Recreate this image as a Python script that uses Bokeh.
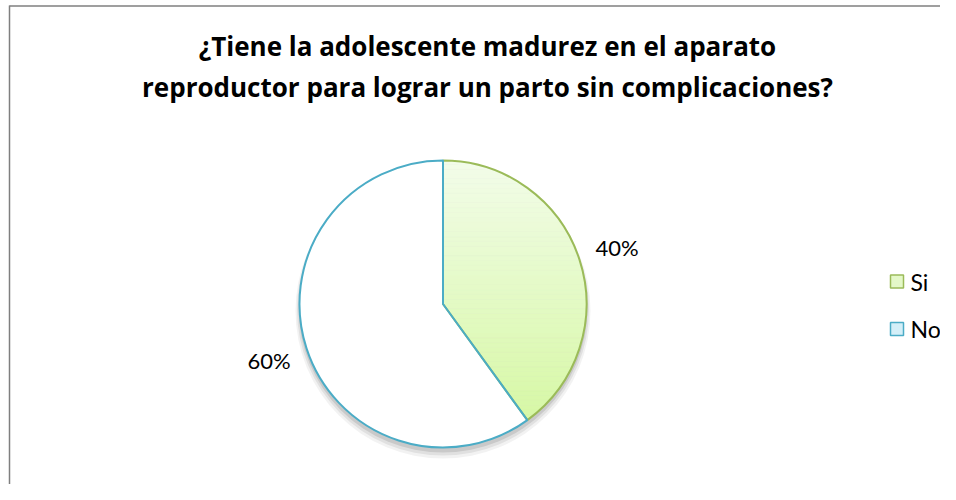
import numpy as np
from bokeh.plotting import figure
from bokeh.models import Range1d
from bokeh.core.properties import value
from bokeh.embed import file_html
from bokeh.resources import INLINE

# ---- data ----
title_lines = ["¿Tiene la adolescente madurez en el aparato",
               "reproductor para lograr un parto sin complicaciones?"]
categories = ["Si", "No"]
percentages = [40, 60]
pct_labels = ["40%", "60%"]

# ---- styles ----
line_colors = ["#9bbb59", "#4bacc6"]
legend_fills = ["#e4f8c8", "#d4eff8"]
si_top, si_bottom = np.array([0xf3, 0xfd, 0xea]), np.array([0xd4, 0xf8, 0x9e])

W, H = 940, 484
p = figure(width=W, height=H, x_range=Range1d(0, W), y_range=Range1d(0, H),
           output_backend="svg", toolbar_location=None, min_border=0)
p.axis.visible = False
p.grid.visible = False
p.outline_line_color = None
p.background_fill_color = "white"
p.border_fill_color = "white"


def Y(sy):
    return H - sy


# frame lines
p.line([9, 9], [Y(5), 0], line_color="#7f7f7f", line_width=1.5)
p.line([9, W], [Y(5.5), Y(5.5)], line_color="#7f7f7f", line_width=1.5)

# title
for i, t in enumerate(title_lines):
    p.text(x=[487], y=[Y(45 + 41 * i)], text=[t], text_align="center", text_baseline="middle",
           text_font=value("Open Sans"), text_font_style="bold", text_font_size="26px",
           text_color="#000000")

cx, cy, R = 442.5, Y(303.5), 143.5

# shadow
for dr, dy, a in [(4, 7, 0.05), (2.5, 5.5, 0.07), (1, 4, 0.1)]:
    p.circle(x=[cx], y=[cy - dy], radius=R + dr, fill_color="black", fill_alpha=a, line_color=None)

fr = np.array(percentages, dtype=float) / sum(percentages)
cum = np.concatenate([[0], np.cumsum(fr)])
end_ang = np.pi / 2 - cum[:-1] * 2 * np.pi
start_ang = np.pi / 2 - cum[1:] * 2 * np.pi

# No slice white fill
p.wedge(x=[cx], y=[cy], radius=R, start_angle=start_ang[1], end_angle=end_ang[1],
        fill_color="white", line_color=None)


def wedge_poly(a0, a1, n=240):
    t = np.linspace(a0, a1, n)
    return [(cx, cy)] + list(zip(cx + R * np.cos(t), cy + R * np.sin(t)))


def clip(poly, yc, keep_above):
    def inside(P):
        return P[1] >= yc if keep_above else P[1] <= yc

    out = []
    n = len(poly)
    for i in range(n):
        P, Q = poly[i], poly[(i + 1) % n]
        iP, iQ = inside(P), inside(Q)
        if iQ:
            if not iP:
                t = (yc - P[1]) / (Q[1] - P[1])
                out.append((P[0] + t * (Q[0] - P[0]), yc))
            out.append(Q)
        elif iP:
            t = (yc - P[1]) / (Q[1] - P[1])
            out.append((P[0] + t * (Q[0] - P[0]), yc))
    return out


# Si slice gradient fill
poly = wedge_poly(start_ang[0], end_ang[0])
nb = 60
edges = np.linspace(cy - R - 1, cy + R + 1, nb + 1)
xs_l, ys_l, cols = [], [], []
for k in range(nb):
    band = clip(clip(poly, edges[k], True), edges[k + 1], False)
    if len(band) < 3:
        continue
    f = (k + 0.5) / nb
    c = (si_bottom * (1 - f) + si_top * f).astype(int)
    cols.append("#%02x%02x%02x" % tuple(c))
    xs_l.append([q[0] for q in band])
    ys_l.append([q[1] for q in band])
p.patches(xs_l, ys_l, fill_color=cols, line_color=cols, line_width=0.6)

# outlines
p.wedge(x=[cx], y=[cy], radius=R, start_angle=start_ang[0], end_angle=end_ang[0],
        fill_color=None, line_color=line_colors[0], line_width=2)
p.wedge(x=[cx], y=[cy], radius=R, start_angle=start_ang[1], end_angle=end_ang[1],
        fill_color=None, line_color=line_colors[1], line_width=2)

# labels
mid = (start_ang + end_ang) / 2
LR = 183
p.text(x=cx + LR * np.cos(mid), y=cy + LR * np.sin(mid), text=pct_labels,
       text_align="center", text_baseline="middle", text_font=value("Lato"),
       text_font_size="22px", text_color="#000000")

# legend
leg_y = [Y(281), Y(328.5)]
p.rect(x=[896.5, 896.5], y=leg_y, width=13, height=13, fill_color=legend_fills,
       line_color=line_colors, line_width=1.5)
p.text(x=[910, 910], y=leg_y, text=categories, text_align="left", text_baseline="middle",
       text_font=value("Lato"), text_font_size="23px", text_color="#000000")

open("out.html", "w").write(file_html(p, INLINE))
